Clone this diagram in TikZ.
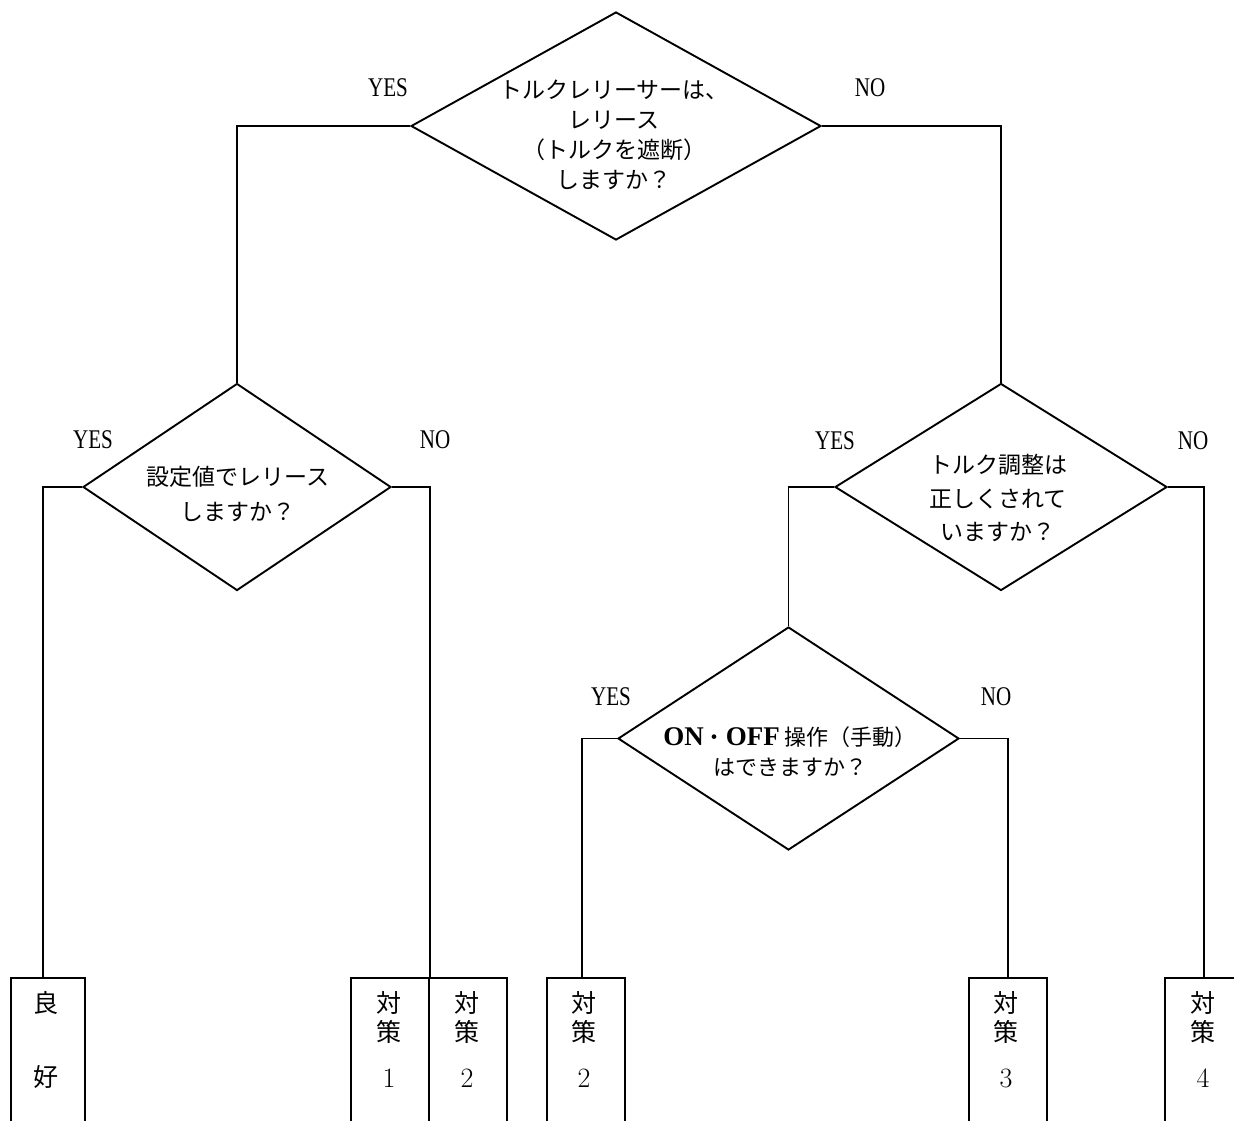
\documentclass[tikz,border=0pt]{standalone}
\usepackage{fontspec}
\newfontfamily\jp{Noto Sans CJK JP}
\newfontfamily\lser{Liberation Serif}
\usetikzlibrary{shapes.geometric}
\begin{document}
\begin{tikzpicture}[x=1pt,y=-1pt,line width=1.9pt,
  dia/.style={shape=diamond,draw,inner sep=0pt},
  box/.style={shape=rectangle,draw,inner sep=0pt,anchor=north,minimum height=200pt},
  qtext/.style={align=center,inner sep=0pt,font=\jp\fontsize{23}{#1}\selectfont},
  btext/.style={inner sep=0pt,font=\jp\fontsize{25}{25}\selectfont},
  dtext/.style={inner sep=0pt,font=\fontsize{28}{28}\selectfont},
  yn/.style={inner sep=0pt,xscale=0.78,font=\lser\fontsize{27}{27}\selectfont}]
\clip (0,0) rectangle (1234,1120);
\fill[white] (0,0) rectangle (1234,1120);

% decision diamonds
\node[dia,minimum width=410pt,minimum height=228pt] (d1) at (616,126) {};
\node[dia,minimum width=308pt,minimum height=207pt] (d2) at (237,487) {};
\node[dia,minimum width=332pt,minimum height=207pt] (d3) at (1001,487) {};
\node[dia,minimum width=341pt,minimum height=223pt] (d4) at (788.5,738.5) {};

% question texts
\node[qtext=30pt] (q1) at (614,135) {トルクレリーサーは、\\レリース\\（トルクを遮断）\\しますか？};
\node[qtext=35pt] (q2) at (238,494) {設定値でレリース\\しますか？};
\node[qtext=33.5pt] (q3) at (998,498) {トルク調整は\\正しくされて\\いますか？};
\node[align=center,inner sep=0pt,font=\jp\fontsize{22}{30}\selectfont] (q4) at (790,752)
  {{\lser\bfseries\fontsize{27}{30}\selectfont ON}・{\lser\bfseries\fontsize{27}{30}\selectfont OFF} 操作（手動）\\はできますか？};

% result boxes
\node[box,minimum width=74pt] (b1) at (48,977) {};
\node[box,minimum width=78pt] (b2) at (390,977) {};
\node[box,minimum width=78pt] (b3) at (468,977) {};
\node[box,minimum width=78pt] (b4) at (586,977) {};
\node[box,minimum width=78pt] (b5) at (1008,977) {};
\node[box,minimum width=78pt] (b6) at (1204,977) {};

\node[btext] (t1a) at (46,1003) {良};
\node[btext] (t1b) at (46,1077) {好};
\node[btext] (t2a) at (389,1003) {対};
\node[btext] (t2b) at (389,1032) {策};
\node[dtext] (t2c) at (389,1078) {1};
\node[btext] (t3a) at (467,1003) {対};
\node[btext] (t3b) at (467,1032) {策};
\node[dtext] (t3c) at (467,1078) {2};
\node[btext] (t4a) at (584,1003) {対};
\node[btext] (t4b) at (584,1032) {策};
\node[dtext] (t4c) at (584,1078) {2};
\node[btext] (t5a) at (1006,1003) {対};
\node[btext] (t5b) at (1006,1032) {策};
\node[dtext] (t5c) at (1006,1078) {3};
\node[btext] (t6a) at (1203,1003) {対};
\node[btext] (t6b) at (1203,1032) {策};
\node[dtext] (t6c) at (1203,1078) {4};

% branch stems
\coordinate (s1) at (43,977);
\coordinate (s4) at (582,977);

% connectors
\draw (d1.west) -| (d2.north);
\draw (d1.east) -| (d3.north);
\draw (d2.west) -| (s1);
\draw (d2.east) -| (b2.north east);
\draw (d3.west) -| (d4.north);
\draw (d3.east) -| (b6.north);
\draw (d4.west) -| (s4);
\draw (d4.east) -| (b5.north);

% YES / NO labels
\node[yn] (y1) at (388,88) {YES};
\node[yn] (n1) at (870,88) {NO};
\node[yn] (y2) at (93,440) {YES};
\node[yn] (n2) at (435,440) {NO};
\node[yn] (y3) at (835,441) {YES};
\node[yn] (n3) at (1193,441) {NO};
\node[yn] (y4) at (611,697) {YES};
\node[yn] (n4) at (996,697) {NO};
\end{tikzpicture}
\end{document}
